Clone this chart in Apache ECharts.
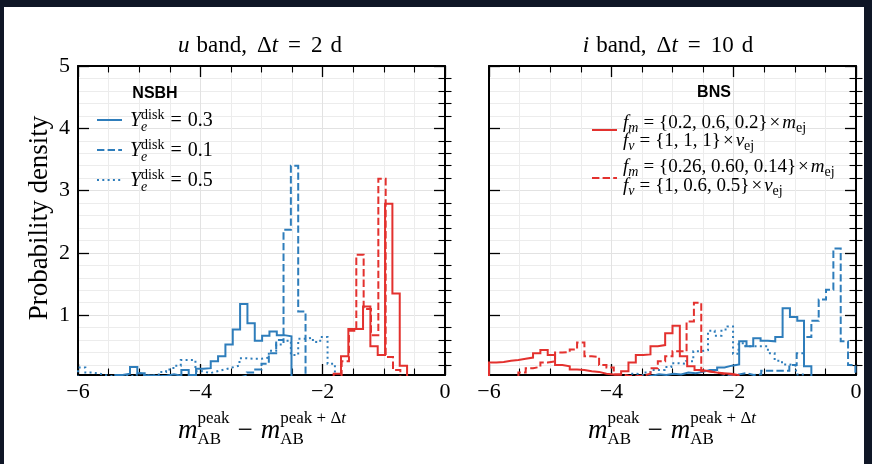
<!DOCTYPE html>
<html>
<head>
<meta charset="utf-8">
<script src="https://cdn.jsdelivr.net/npm/echarts@6/dist/echarts.min.js"></script>
<style>
  html, body { margin: 0; padding: 0; background: #0f1626; }
  #paper { position: absolute; left: 4px; top: 7px; width: 860px; height: 457px; background: #ffffff; }
  #chart { position: absolute; left: 0; top: 0; width: 872px; height: 464px; }
</style>
</head>
<body>
<div id="paper"></div>
<div id="chart"></div>
<script>
// ---------------- axis ticks ----------------
const xTickValues = [-6, -4, -2, 0];
const xTickLabels = ['−6', '−4', '−2', '0'];
const yTickValues = [1, 2, 3, 4, 5];
const yTickLabels = ['1', '2', '3', '4', '5'];
const yMin = 0.04, yMax = 5;

// ---------------- u band, Δt = 2 d ----------------
// NSBH, Y_e^disk = 0.3 (solid blue)
const uNsbh03Edges = [-5.39, -5.27, -5.15, -5.03, -4.91, -4.79, -4.67, -4.55, -4.43, -4.31, -4.19, -4.07, -3.95, -3.83, -3.71, -3.59, -3.47, -3.35, -3.23, -3.11, -2.99, -2.87, -2.75, -2.63, -2.51];
const uNsbh03Dens  = [0.04, 0.06, 0.17, 0.07, 0.03, 0.02, 0.03, 0.05, 0.03, 0.12, 0.04, 0.14, 0.15, 0.26, 0.34, 0.53, 0.77, 1.18, 0.87, 0.59, 0.67, 0.74, 0.68, 0.66];
// NSBH, Y_e^disk = 0.1 (dashed blue)
const uNsbh01Edges = [-3.36, -3.24, -3.12, -3.00, -2.88, -2.76, -2.64, -2.52, -2.40, -2.28];
const uNsbh01Dens  = [0.03, 0.08, 0.13, 0.22, 0.39, 0.60, 2.37, 3.40, 1.06];
// NSBH, Y_e^disk = 0.5 (dotted blue)
const uNsbh05Edges = [-6.00, -5.88, -5.76, -5.64, -5.52, -5.40, -5.28, -5.16, -5.04, -4.92, -4.80, -4.68, -4.56, -4.44, -4.32, -4.20, -4.08, -3.96, -3.84, -3.72, -3.60, -3.48, -3.36, -3.24, -3.12, -3.00, -2.88, -2.76, -2.64, -2.52, -2.40, -2.28, -2.16, -2.04, -1.92, -1.80];
const uNsbh05Dens  = [0.16, 0.08, 0.06, 0.03, 0.02, 0.04, 0.02, 0.03, 0.07, 0.03, 0.04, 0.09, 0.13, 0.19, 0.28, 0.28, 0.10, 0.07, 0.10, 0.13, 0.16, 0.19, 0.31, 0.30, 0.30, 0.32, 0.43, 0.53, 0.59, 0.36, 0.62, 0.64, 0.57, 0.65, 0.22];
// BNS, f_v = {1, 1, 1} (solid red)
const uBnsAEdges = [-1.82, -1.70, -1.58, -1.46, -1.34, -1.22, -1.10, -0.98, -0.86, -0.74, -0.62];
const uBnsADens  = [0.06, 0.34, 0.78, 0.78, 1.14, 0.50, 0.36, 2.79, 1.35, 0.19];
// BNS, f_v = {1, 0.6, 0.5} (dashed red)
const uBnsBEdges = [-1.69, -1.57, -1.45, -1.33, -1.21, -1.09, -0.97, -0.85, -0.73];
const uBnsBDens  = [0.26, 0.75, 1.97, 1.10, 0.68, 3.19, 0.33, 0.12];

// ---------------- i band, Δt = 10 d ----------------
const iNsbh03Edges = [-3.45, -3.33, -3.22, -3.10, -2.98, -2.86, -2.74, -2.62, -2.50, -2.39, -2.27, -2.15, -2.03, -1.91, -1.79, -1.68, -1.56, -1.44, -1.32, -1.20, -1.08, -0.96, -0.85, -0.73];
const iNsbh03Dens  = [0.03, 0.05, 0.04, 0.06, 0.05, 0.08, 0.07, 0.09, 0.12, 0.12, 0.16, 0.19, 0.21, 0.58, 0.50, 0.63, 0.59, 0.58, 0.65, 1.11, 0.97, 0.91, 0.18];
const iNsbh01Edges = [-2.27, -2.15, -2.03, -1.91, -1.79, -1.67, -1.55, -1.44, -1.32, -1.20, -1.09, -0.97, -0.85, -0.73, -0.61, -0.49, -0.37, -0.25, -0.13, -0.01];
const iNsbh01Dens  = [0.02, 0.03, 0.05, 0.07, 0.04, 0.05, 0.11, 0.11, 0.11, 0.11, 0.20, 0.39, 0.65, 0.91, 1.25, 1.41, 2.07, 0.58, 0.20];
const iNsbh05Edges = [-3.70, -3.58, -3.47, -3.36, -3.24, -3.13, -3.02, -2.90, -2.78, -2.66, -2.54, -2.42, -2.31, -2.20, -2.10, -2.01, -1.92, -1.81, -1.72, -1.63, -1.53, -1.44, -1.33, -1.21, -1.09, -0.98, -0.87];
const iNsbh05Dens  = [0.06, 0.04, 0.08, 0.12, 0.12, 0.17, 0.23, 0.22, 0.26, 0.42, 0.44, 0.75, 0.67, 0.77, 0.82, 0.38, 0.55, 0.50, 0.50, 0.50, 0.50, 0.39, 0.27, 0.21, 0.19, 0.05];
const iBnsAEdges = [-6.00, -5.88, -5.76, -5.64, -5.52, -5.40, -5.28, -5.16, -5.04, -4.92, -4.80, -4.68, -4.56, -4.44, -4.32, -4.20, -4.08, -3.96, -3.84, -3.72, -3.60, -3.48, -3.36, -3.24, -3.12, -3.00, -2.88, -2.76, -2.64, -2.52, -2.40, -2.28, -2.16, -2.04, -1.92];
const iBnsADens  = [0.24, 0.25, 0.27, 0.28, 0.30, 0.32, 0.39, 0.44, 0.36, 0.20, 0.18, 0.13, 0.12, 0.10, 0.09, 0.06, 0.05, 0.05, 0.10, 0.24, 0.36, 0.37, 0.50, 0.52, 0.71, 0.83, 0.34, 0.18, 0.12, 0.10, 0.08, 0.07, 0.06, 0.04];
const iBnsBEdges = [-5.52, -5.40, -5.28, -5.16, -5.04, -4.92, -4.80, -4.68, -4.56, -4.44, -4.32, -4.20, -4.08, -3.96, -3.84, -3.72, -3.60, -3.48, -3.36, -3.24, -3.12, -3.00, -2.88, -2.77, -2.65, -2.53, -2.41, -2.29, -2.17, -2.05, -1.93];
const iBnsBDens  = [0.08, 0.15, 0.17, 0.24, 0.26, 0.40, 0.41, 0.45, 0.56, 0.34, 0.33, 0.20, 0.16, 0.05, 0.03, 0.02, 0.03, 0.06, 0.15, 0.26, 0.34, 0.42, 0.42, 0.90, 1.20, 0.10, 0.08, 0.06, 0.05, 0.03];

// ---------------- styling ----------------
const BLUE = '#2e7dbb';
const RED = '#e3312e';
const DASH = [7.4, 3.2];
const DOT = [2, 3.3];
const SERIF = '"Liberation Serif", "Times New Roman", serif';
const SANS = '"Liberation Sans", Arial, sans-serif';

// step outline of a histogram, closed down to the baseline at both ends
function stepOutline(edges, dens) {
  const pts = [[edges[0], 0]];
  for (let i = 0; i < dens.length; i++) {
    pts.push([edges[i], dens[i]]);
    pts.push([edges[i + 1], dens[i]]);
  }
  pts.push([edges[edges.length - 1], 0]);
  return pts;
}

// minor y ticks every 0.2 that are not integers
const yMinorValues = [];
for (let k = 1; k < 25; k++) { if (k % 5 !== 0) yMinorValues.push(+(k * 0.2).toFixed(1)); }

const panels = [
  { left: 78, series: [
    [uNsbh03Edges, uNsbh03Dens, BLUE, 'solid'],
    [uNsbh01Edges, uNsbh01Dens, BLUE, DASH],
    [uNsbh05Edges, uNsbh05Dens, BLUE, DOT],
    [uBnsAEdges, uBnsADens, RED, 'solid'],
    [uBnsBEdges, uBnsBDens, RED, DASH]
  ]},
  { left: 489, series: [
    [iNsbh03Edges, iNsbh03Dens, BLUE, 'solid'],
    [iNsbh01Edges, iNsbh01Dens, BLUE, DASH],
    [iNsbh05Edges, iNsbh05Dens, BLUE, DOT],
    [iBnsAEdges, iBnsADens, RED, 'solid'],
    [iBnsBEdges, iBnsBDens, RED, DASH]
  ]}
];

const grid = [], xAxis = [], yAxis = [], series = [];
const frame = { color: '#000', width: 2 };
panels.forEach((p, g) => {
  grid.push({ left: p.left, top: 66, width: 367, height: 309 });
  const xBase = {
    type: 'value', gridIndex: g, min: -6, max: 0, interval: 2,
    axisLine: { onZero: false, lineStyle: frame },
    axisTick: { inside: true, length: 11, lineStyle: { color: '#000', width: 1.3 } },
    minorTick: { show: true, splitNumber: 4, length: 6.5, lineStyle: { color: '#000', width: 1.1 } }
  };
  xAxis.push(Object.assign({}, xBase, {
    position: 'bottom',
    axisLabel: {
      customValues: xTickValues, margin: 6, color: '#000', fontFamily: SERIF, fontSize: 22,
      formatter: v => xTickLabels[xTickValues.indexOf(v)]
    },
    splitLine: { show: true, lineStyle: { color: '#e2e2e2', width: 1 } },
    minorSplitLine: { show: true, lineStyle: { color: '#ececec', width: 1 } }
  }));
  xAxis.push(Object.assign({}, xBase, {
    position: 'top', axisLabel: { show: false }, splitLine: { show: false }
  }));
  const yBase = { type: 'value', gridIndex: g, min: yMin, max: yMax };
  const yi = yAxis.length;
  // major ticks, labels and grid at integers (left)
  yAxis.push(Object.assign({}, yBase, {
    position: 'left',
    axisLine: { show: true, onZero: false, lineStyle: frame },
    axisTick: { inside: true, length: 11, customValues: yTickValues, lineStyle: { color: '#000', width: 1.3 } },
    axisLabel: {
      show: g === 0, customValues: yTickValues, margin: 8, color: '#000', fontFamily: SERIF, fontSize: 22,
      formatter: v => yTickLabels[yTickValues.indexOf(v)]
    },
    splitLine: { show: true, lineStyle: { color: '#e2e2e2', width: 1 } }
  }));
  // minor ticks and grid every 0.2 (left)
  yAxis.push(Object.assign({}, yBase, {
    position: 'left',
    axisLine: { show: false },
    axisTick: { inside: true, length: 6.5, customValues: yMinorValues, lineStyle: { color: '#000', width: 1.1 } },
    axisLabel: { show: false },
    splitLine: { show: true, lineStyle: { color: '#ececec', width: 1 } }
  }));
  // right-hand frame with mirrored ticks
  yAxis.push(Object.assign({}, yBase, {
    position: 'right',
    axisLine: { show: true, onZero: false, lineStyle: frame },
    axisTick: { inside: true, length: 11, customValues: yTickValues, lineStyle: { color: '#000', width: 1.3 } },
    axisLabel: { show: false }, splitLine: { show: false }
  }));
  yAxis.push(Object.assign({}, yBase, {
    position: 'right',
    axisLine: { show: false },
    axisTick: { inside: true, length: 6.5, customValues: yMinorValues, lineStyle: { color: '#000', width: 1.1 } },
    axisLabel: { show: false }, splitLine: { show: false }
  }));
  p.series.forEach(([edges, dens, color, type]) => {
    series.push({
      type: 'line', xAxisIndex: g * 2, yAxisIndex: yi,
      data: stepOutline(edges, dens),
      showSymbol: false, symbol: 'none', silent: true, clip: true, z: 3,
      lineStyle: { color: color, width: 2, type: type, join: 'miter', cap: 'butt' }
    });
  });
});

// ---------------- math-style text ----------------
const measureCtx = document.createElement('canvas').getContext('2d');
function fontOf(size, italic, bold, family) {
  return (italic ? 'italic ' : '') + (bold ? 'bold ' : '') + size + 'px ' + (family || SERIF);
}
function runWidth(runs, size) {
  let w = 0;
  runs.forEach(r => { measureCtx.font = fontOf(size, r.it); w += measureCtx.measureText(r.t).width; });
  return w;
}
function textEl(str, x, y, size, italic) {
  return {
    type: 'text', x: x, y: y, silent: true, z: 10,
    style: { text: str, font: fontOf(size, italic), fill: '#000',
             align: 'left', verticalAlign: 'middle', textAlign: 'left', textVerticalAlign: 'middle' }
  };
}
// tokens: {t, it} plain run, {gap} horizontal space, {sup:[runs], sub:[runs]} scripts
function mathText(tokens, o) {
  const items = [];
  let x = 0;
  const placeRuns = (runs, x0, dy, size) => {
    let cx = x0;
    runs.forEach(r => {
      items.push([r.t, cx, dy, size, !!r.it]);
      measureCtx.font = fontOf(size, r.it);
      cx += measureCtx.measureText(r.t).width;
    });
  };
  tokens.forEach(tok => {
    if (tok.gap != null) { x += tok.gap; return; }
    if (tok.t != null) { placeRuns([tok], x, 0, o.size); x += runWidth([tok], o.size); return; }
    let w = 0;
    if (tok.sup) { placeRuns(tok.sup, x + (tok.supShift || 0), o.supDy, o.script); w = Math.max(w, runWidth(tok.sup, o.script) + (tok.supShift || 0)); }
    if (tok.sub) { placeRuns(tok.sub, x + (tok.subShift || 0), o.subDy, o.script); w = Math.max(w, runWidth(tok.sub, o.script) + (tok.subShift || 0)); }
    x += w;
  });
  const x0 = o.align === 'center' ? o.x - x / 2 : o.x;
  return items.map(([s, ix, dy, size, it]) => textEl(s, x0 + ix, o.y + dy, size, it));
}

const graphics = [];
// panel titles
const titleOpt = { size: 23, script: 15, supDy: 0, subDy: 0, align: 'center', y: 46 };
graphics.push(...mathText([{ t: 'u', it: true }, { gap: 7 }, { t: 'band,' }, { gap: 10 }, { t: 'Δ' }, { t: 't', it: true },
  { gap: 10 }, { t: '=' }, { gap: 10 }, { t: '2' }, { gap: 8 }, { t: 'd' }], Object.assign({ x: 260 }, titleOpt)));
graphics.push(...mathText([{ t: 'i', it: true }, { gap: 7 }, { t: 'band,' }, { gap: 10 }, { t: 'Δ' }, { t: 't', it: true },
  { gap: 10 }, { t: '=' }, { gap: 10 }, { t: '10' }, { gap: 8 }, { t: 'd' }], Object.assign({ x: 668 }, titleOpt)));

// x-axis names
const xNameTokens = [
  { t: 'm', it: true }, { sup: [{ t: 'peak' }], sub: [{ t: 'AB' }] }, { gap: 8 }, { t: '−' }, { gap: 8 },
  { t: 'm', it: true }, { sup: [{ t: 'peak + Δ' }, { t: 't', it: true }], sub: [{ t: 'AB' }] }
];
const xNameOpt = { size: 27, script: 17, supDy: -12, subDy: 9, align: 'center', y: 431 };
graphics.push(...mathText(xNameTokens, Object.assign({ x: 262 }, xNameOpt)));
graphics.push(...mathText(xNameTokens, Object.assign({ x: 672 }, xNameOpt)));

// y-axis name
graphics.push({
  type: 'text', x: 40, y: 218, rotation: Math.PI / 2, silent: true,
  style: { text: 'Probability density', font: fontOf(27), fill: '#000',
           align: 'center', verticalAlign: 'middle', textAlign: 'center', textVerticalAlign: 'middle' }
});

// NSBH legend (left panel)
graphics.push({
  type: 'text', x: 155, y: 94, silent: true, z: 10,
  style: { text: 'NSBH', font: fontOf(16, false, true, SANS), fill: '#000',
           align: 'center', verticalAlign: 'middle', textAlign: 'center', textVerticalAlign: 'middle' }
});
const nsbhLegend = [['0.3', 'solid', 120], ['0.1', DASH, 150], ['0.5', DOT, 180]];
nsbhLegend.forEach(([val, type, y]) => {
  graphics.push({ type: 'line', silent: true, z: 10, shape: { x1: 97, y1: y, x2: 122, y2: y },
    style: { stroke: BLUE, lineWidth: 2, lineDash: type === 'solid' ? null : type } });
  graphics.push(...mathText([{ t: 'Y', it: true }, { sup: [{ t: 'disk' }], sub: [{ t: 'e', it: true }] }, { gap: 6 },
    { t: '=' }, { gap: 6 }, { t: val }], { x: 130, y: y + 1, size: 20, script: 14, supDy: -6, subDy: 6, align: 'left' }));
});

// BNS legend (right panel)
graphics.push({
  type: 'text', x: 714, y: 93, silent: true, z: 10,
  style: { text: 'BNS', font: fontOf(16, false, true, SANS), fill: '#000',
           align: 'center', verticalAlign: 'middle', textAlign: 'center', textVerticalAlign: 'middle' }
});
const bnsLegend = [
  ['{0.2, 0.6, 0.2}', '{1, 1, 1}', 'solid', 130, 123, 141],
  ['{0.26, 0.60, 0.14}', '{1, 0.6, 0.5}', DASH, 178, 167, 186]
];
const bnsOpt = { size: 19, script: 14, supDy: 0, subDy: 5, align: 'left', x: 623 };
bnsLegend.forEach(([fm, fv, type, yl, y1, y2]) => {
  graphics.push({ type: 'line', silent: true, z: 10, shape: { x1: 592, y1: yl, x2: 617, y2: yl },
    style: { stroke: RED, lineWidth: 2, lineDash: type === 'solid' ? null : type } });
  graphics.push(...mathText([{ t: 'f', it: true }, { sub: [{ t: 'm', it: true }] }, { gap: 5 }, { t: '=' }, { gap: 5 },
    { t: fm }, { gap: 2 }, { t: '×' }, { gap: 2 }, { t: 'm', it: true }, { sub: [{ t: 'ej' }] }], Object.assign({ y: y1 }, bnsOpt)));
  graphics.push(...mathText([{ t: 'f', it: true }, { sub: [{ t: 'v', it: true }] }, { gap: 5 }, { t: '=' }, { gap: 5 },
    { t: fv }, { gap: 2 }, { t: '×' }, { gap: 2 }, { t: 'v', it: true }, { sub: [{ t: 'ej' }] }], Object.assign({ y: y2 }, bnsOpt)));
});

const chart = echarts.init(document.getElementById('chart'), null, { renderer: 'canvas' });
chart.setOption({
  animation: false,
  backgroundColor: 'transparent',
  grid: grid,
  xAxis: xAxis,
  yAxis: yAxis,
  series: series,
  graphic: { elements: graphics }
});
</script>
</body>
</html>
